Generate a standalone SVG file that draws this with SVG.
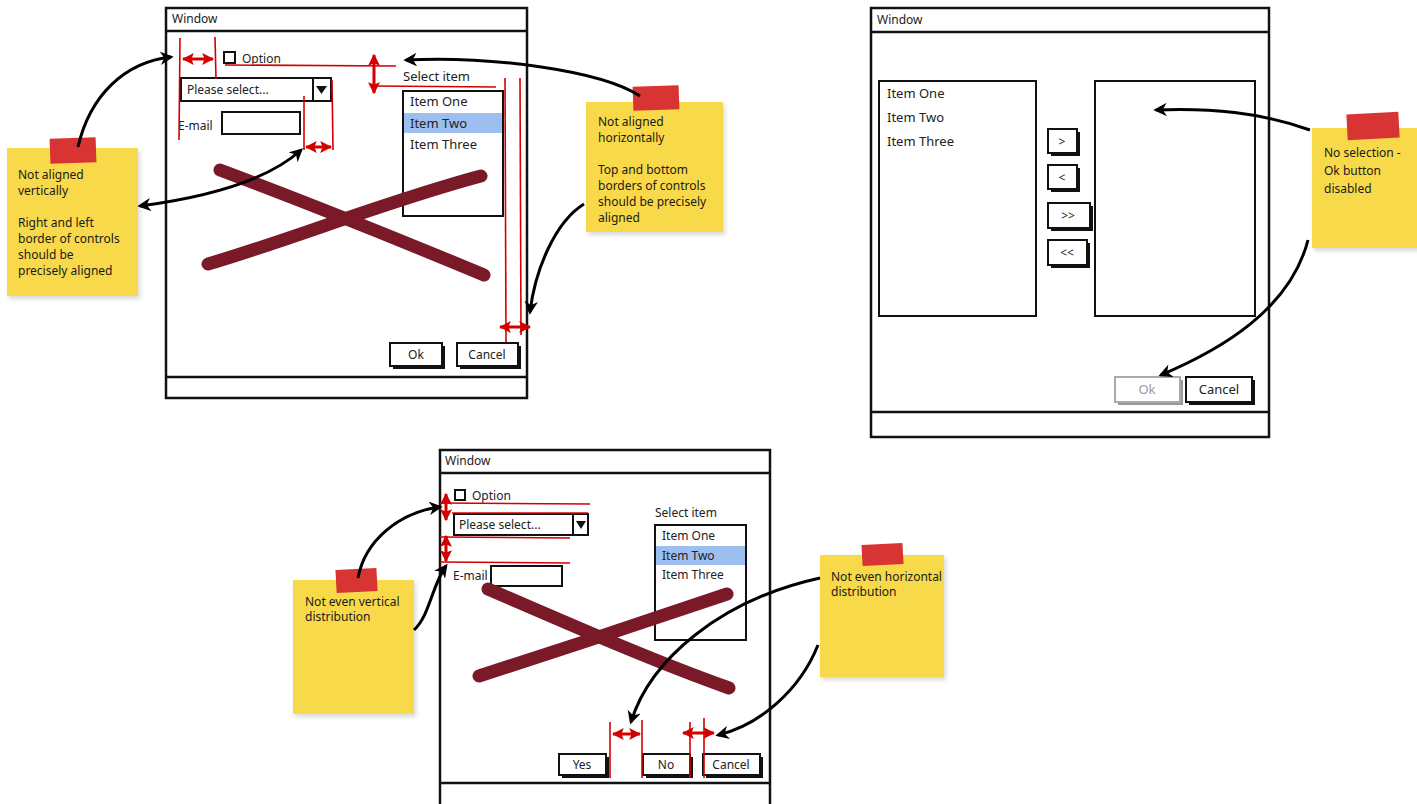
<svg xmlns="http://www.w3.org/2000/svg" width="1417" height="804" viewBox="0 0 1417 804">
<defs>
<marker id="ah" viewBox="0 0 10 10" refX="8" refY="5" markerWidth="4.5" markerHeight="4.5" orient="auto-start-reverse" markerUnits="strokeWidth"><path d="M0,0 L10,5 L0,10 L3,5 z" fill="#000"/></marker>
<marker id="rh" viewBox="0 0 10 10" refX="9" refY="5" markerWidth="4" markerHeight="4" orient="auto-start-reverse" markerUnits="strokeWidth"><path d="M0,0 L10,5 L0,10 L2,5 z" fill="#d40000"/></marker>
<filter id="sh" x="-10%" y="-10%" width="130%" height="130%"><feDropShadow dx="2" dy="3" stdDeviation="2" flood-color="#000" flood-opacity="0.15"/></filter>
</defs>
<style>
text{font-family:"Noto Sans","Liberation Sans",sans-serif;fill:#222}
.win{fill:#fff;stroke:#111;stroke-width:2.5}
.bar{fill:none;stroke:#111;stroke-width:2.5}
.t{font-size:12px}
.it{font-size:13px}
.ctl{fill:#fff;stroke:#111;stroke-width:2}
.btn{fill:#fff;stroke:#111;stroke-width:2}
.bsh{fill:#111}
.red{stroke:#d40000;stroke-width:1.6;fill:none}
.rarr{stroke:#d40000;stroke-width:3;fill:none;marker-start:url(#rh);marker-end:url(#rh)}
.xx{stroke:#7a1a28;stroke-width:13;stroke-linecap:round;fill:none}
.note{fill:#f8d94a;filter:url(#sh)}
.tape{fill:#d93434}
.nt{font-size:12px;fill:#1a1a1a}
.con{stroke:#000;stroke-width:3;fill:none;marker-end:url(#ah)}
.con2{stroke:#000;stroke-width:3;fill:none;marker-start:url(#ah);marker-end:url(#ah)}
</style>

<!-- Window 1 -->
<g id="window1">
<rect class="win" x="166" y="8" width="361" height="390"/>
<line class="bar" x1="166" y1="31" x2="527" y2="31"/>
<line class="bar" x1="166" y1="377" x2="527" y2="377"/>
<text class="t" x="172" y="23">Window</text>
<rect class="ctl" x="224" y="52" width="11" height="11" stroke-width="1.6"/>
<text class="t" x="242" y="63">Option</text>
<rect class="ctl" x="181" y="78" width="150" height="23"/>
<line x1="313" y1="78" x2="313" y2="101" stroke="#111" stroke-width="2"/>
<path d="M316,86 L327,86 L321.5,94 z" fill="#111"/>
<text class="t" x="187" y="94">Please select...</text>
<text class="t" x="178" y="130">E-mail</text>
<rect class="ctl" x="222" y="112" width="78" height="22"/>
<text class="it" x="403" y="81">Select item</text>
<rect class="ctl" x="403" y="91" width="100" height="125"/>
<rect x="404" y="113" width="98" height="20" fill="#9dbfef"/>
<text class="it" x="410" y="106">Item One</text>
<text class="it" x="410" y="128">Item Two</text>
<text class="it" x="410" y="149">Item Three</text>
<rect class="bsh" x="393" y="346" width="52" height="23"/>
<rect class="btn" x="390" y="343" width="52" height="23"/>
<text class="t" x="416" y="359" text-anchor="middle">Ok</text>
<rect class="bsh" x="460" y="346" width="61" height="23"/>
<rect class="btn" x="457" y="343" width="61" height="23"/>
<text class="t" x="487" y="359" text-anchor="middle">Cancel</text>
<path class="xx" d="M220,170 C300,200 400,240 484,275"/>
<path class="xx" d="M208,264 C290,240 390,200 481,176"/>
<line class="red" x1="180" y1="38" x2="179" y2="140"/>
<line class="red" x1="215" y1="37" x2="216" y2="79"/>
<line class="rarr" x1="183" y1="59" x2="213" y2="59"/>
<line class="red" x1="225" y1="65" x2="396" y2="66"/>
<line class="red" x1="375" y1="86" x2="496" y2="87"/>
<line class="rarr" x1="374" y1="55" x2="374" y2="93"/>
<line class="red" x1="304" y1="96" x2="304" y2="150"/>
<line class="red" x1="332" y1="80" x2="333" y2="150"/>
<line class="rarr" x1="306" y1="147" x2="331" y2="147"/>
<line class="red" x1="505" y1="78" x2="506" y2="342"/>
<line class="red" x1="520" y1="78" x2="521" y2="335"/>
<line class="rarr" x1="500" y1="327" x2="530" y2="327"/>
</g>

<!-- Window 2 -->
<g id="window2">
<rect class="win" x="871" y="8" width="398" height="429"/>
<line class="bar" x1="871" y1="32" x2="1269" y2="32"/>
<line class="bar" x1="871" y1="412" x2="1269" y2="412"/>
<text class="t" x="877" y="24">Window</text>
<rect class="ctl" x="879" y="81" width="157" height="235"/>
<text class="it" x="887" y="98">Item One</text>
<text class="it" x="887" y="122">Item Two</text>
<text class="it" x="887" y="146">Item Three</text>
<rect class="ctl" x="1095" y="81" width="160" height="235"/>
<rect class="bsh" x="1051" y="132" width="29" height="24"/>
<rect class="btn" x="1048" y="129" width="29" height="24"/>
<text class="t" x="1062" y="146" text-anchor="middle">&gt;</text>
<rect class="bsh" x="1051" y="168" width="29" height="24"/>
<rect class="btn" x="1048" y="165" width="29" height="24"/>
<text class="t" x="1062" y="182" text-anchor="middle">&lt;</text>
<rect class="bsh" x="1051" y="206" width="42" height="25"/>
<rect class="btn" x="1048" y="203" width="42" height="25"/>
<text class="t" x="1068" y="220" text-anchor="middle">&gt;&gt;</text>
<rect class="bsh" x="1051" y="243" width="39" height="25"/>
<rect class="btn" x="1048" y="240" width="39" height="25"/>
<text class="t" x="1067" y="257" text-anchor="middle">&lt;&lt;</text>
<rect x="1118" y="380" width="65" height="25" fill="#999"/>
<rect x="1115" y="377" width="65" height="25" fill="#fff" stroke="#aaa" stroke-width="2"/>
<text class="it" x="1147" y="394" text-anchor="middle" style="fill:#999">Ok</text>
<rect class="bsh" x="1189" y="380" width="66" height="25"/>
<rect class="btn" x="1186" y="377" width="66" height="25"/>
<text class="it" x="1219" y="394" text-anchor="middle">Cancel</text>
</g>

<!-- Window 3 -->
<g id="window3">
<rect class="win" x="440" y="450" width="330" height="360"/>
<line class="bar" x1="440" y1="473" x2="770" y2="473"/>
<line class="bar" x1="440" y1="783" x2="770" y2="783"/>
<text class="t" x="445" y="465">Window</text>
<rect class="ctl" x="455" y="490" width="10" height="10" stroke-width="1.6"/>
<text class="t" x="472" y="500">Option</text>
<rect class="ctl" x="454" y="514" width="134" height="21"/>
<line x1="573" y1="514" x2="573" y2="535" stroke="#111" stroke-width="2"/>
<path d="M576,521 L586,521 L581,529 z" fill="#111"/>
<text class="t" x="459" y="529">Please select...</text>
<text class="t" x="453" y="580">E-mail</text>
<rect class="ctl" x="491" y="566" width="71" height="20"/>
<text class="t" x="655" y="517">Select item</text>
<rect class="ctl" x="655" y="525" width="91" height="115"/>
<rect x="656" y="546" width="89" height="19" fill="#9dbfef"/>
<text class="t" x="662" y="540">Item One</text>
<text class="t" x="662" y="560">Item Two</text>
<text class="t" x="662" y="579">Item Three</text>
<rect class="bsh" x="562" y="757" width="47" height="21"/>
<rect class="btn" x="559" y="754" width="47" height="21"/>
<text class="t" x="582" y="769" text-anchor="middle">Yes</text>
<rect class="bsh" x="646" y="757" width="47" height="21"/>
<rect class="btn" x="643" y="754" width="47" height="21"/>
<text class="t" x="666" y="769" text-anchor="middle">No</text>
<rect class="bsh" x="706" y="757" width="57" height="21"/>
<rect class="btn" x="703" y="754" width="57" height="21"/>
<text class="t" x="731" y="769" text-anchor="middle">Cancel</text>
<path class="xx" d="M488,589 C560,620 650,660 729,688"/>
<path class="xx" d="M479,676 C560,650 650,620 727,594"/>
<line class="red" x1="440" y1="503" x2="590" y2="504"/>
<line class="red" x1="440" y1="537" x2="570" y2="538"/>
<line class="red" x1="440" y1="562" x2="570" y2="563"/>
<line class="red" x1="452" y1="513" x2="588" y2="513"/>
<line class="rarr" x1="446" y1="494" x2="446" y2="520"/>
<line class="rarr" x1="446" y1="536" x2="446" y2="561"/>
<line class="red" x1="610" y1="722" x2="610" y2="778"/>
<line class="red" x1="642" y1="720" x2="642" y2="778"/>
<line class="red" x1="690" y1="722" x2="690" y2="778"/>
<line class="red" x1="704" y1="718" x2="704" y2="778"/>
<line class="rarr" x1="613" y1="734" x2="640" y2="734"/>
<line class="rarr" x1="683" y1="733" x2="714" y2="733"/>
</g>

<!-- Sticky notes -->
<g id="note1">
<rect class="note" x="7" y="148" width="131" height="148"/>
<rect class="tape" x="50" y="138" width="46" height="25" transform="rotate(-2 73 150)"/>
<text class="nt" x="18" y="179">Not aligned</text>
<text class="nt" x="18" y="195">vertically</text>
<text class="nt" x="18" y="227">Right and left</text>
<text class="nt" x="18" y="243">border of controls</text>
<text class="nt" x="18" y="259">should be</text>
<text class="nt" x="18" y="275">precisely aligned</text>
</g>
<g id="note2">
<rect class="note" x="586" y="102" width="137" height="130"/>
<rect class="tape" x="633" y="86" width="46" height="24" transform="rotate(-2 656 98)"/>
<text class="nt" x="598" y="126">Not aligned</text>
<text class="nt" x="598" y="142">horizontally</text>
<text class="nt" x="598" y="174">Top and bottom</text>
<text class="nt" x="598" y="190">borders of controls</text>
<text class="nt" x="598" y="206">should be precisely</text>
<text class="nt" x="598" y="222">aligned</text>
</g>
<g id="note3">
<rect class="note" x="1312" y="128" width="110" height="120"/>
<rect class="tape" x="1347" y="113" width="52" height="26" transform="rotate(-3 1373 126)"/>
<text class="nt" x="1324" y="157">No selection -</text>
<text class="nt" x="1324" y="175">Ok button</text>
<text class="nt" x="1324" y="193">disabled</text>
</g>
<g id="note4">
<rect class="note" x="293" y="580" width="121" height="134"/>
<rect class="tape" x="336" y="569" width="41" height="23" transform="rotate(-3 356 580)"/>
<text class="nt" x="305" y="606">Not even vertical</text>
<text class="nt" x="305" y="621">distribution</text>
</g>
<g id="note5">
<rect class="note" x="820" y="555" width="124" height="122"/>
<rect class="tape" x="862" y="544" width="41" height="21" transform="rotate(-3 882 554)"/>
<text class="nt" x="831" y="581">Not even horizontal</text>
<text class="nt" x="831" y="596">distribution</text>
</g>

<!-- Connectors -->
<g id="connectors">
<path class="con" d="M78,147 C90,95 125,62 171,57"/>
<path class="con2" d="M140,206 C200,198 265,183 301,150"/>
<path class="con" d="M640,96 C600,70 490,56 406,60"/>
<path class="con" d="M584,204 C555,222 535,270 530,312"/>
<path class="con" d="M1310,130 C1260,112 1210,108 1156,110"/>
<path class="con" d="M1308,240 C1290,310 1220,350 1161,375"/>
<path class="con" d="M358,578 C365,540 400,512 440,507"/>
<path class="con" d="M414,630 C430,615 432,585 446,566"/>
<path class="con" d="M820,578 C720,600 650,660 631,722"/>
<path class="con" d="M818,645 C800,690 760,725 718,735"/>
</g>
</svg>
